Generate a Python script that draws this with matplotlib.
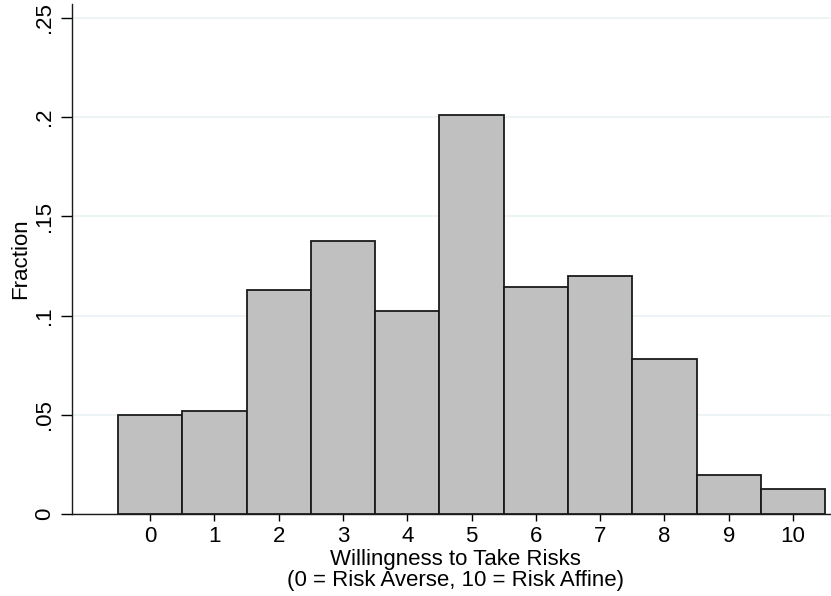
import matplotlib
matplotlib.use("Agg")
import matplotlib.pyplot as plt

plt.rcParams['font.family'] = ['Liberation Sans', 'DejaVu Sans']

# willingness to take risks, 0..10
scores = list(range(11))
fractions = [0.0498, 0.0518, 0.1128, 0.1377, 0.1021, 0.2012,
             0.1143, 0.1199, 0.0783, 0.0198, 0.0127]
ytick_vals = [0, 0.05, 0.1, 0.15, 0.2, 0.25]
ytick_labels = ['0', '.05', '.1', '.15', '.2', '.25']

fig = plt.figure(figsize=(8.31, 5.96), dpi=100)
ax = fig.add_axes([0.0866, 0.1376, 0.9134, 0.8557])

ax.bar(scores, fractions, width=1.0, color='#c0c0c0', edgecolor='#1a1a1a',
       linewidth=1.3, zorder=3)

ax.set_xlim(-1.215, 10.59)
ax.set_ylim(0, 0.257)
ax.set_xticks(scores)
ax.set_yticks(ytick_vals)
ax.set_yticklabels(ytick_labels, rotation=90, va='center')
ax.tick_params(axis='x', length=5, width=1, labelsize=16, pad=4)
ax.tick_params(axis='y', length=8, width=1, labelsize=16, pad=4)
ax.yaxis.grid(True, color='#eaf2f3', linewidth=1.2, zorder=0)

for side in ['top', 'right']:
    ax.spines[side].set_visible(False)
for side in ['left', 'bottom']:
    ax.spines[side].set_color('#1a1a1a')
    ax.spines[side].set_linewidth(1)

ax.set_ylabel('Fraction', fontsize=16, labelpad=2)
ax.set_xlabel('Willingness to Take Risks\n(0 = Risk Averse, 10 = Risk Affine)',
              fontsize=16, linespacing=1.05)
ax.xaxis.set_label_coords(0.505, -0.068)
ax.xaxis.label.set_va('top')

plt.savefig('out.png', dpi=100)
